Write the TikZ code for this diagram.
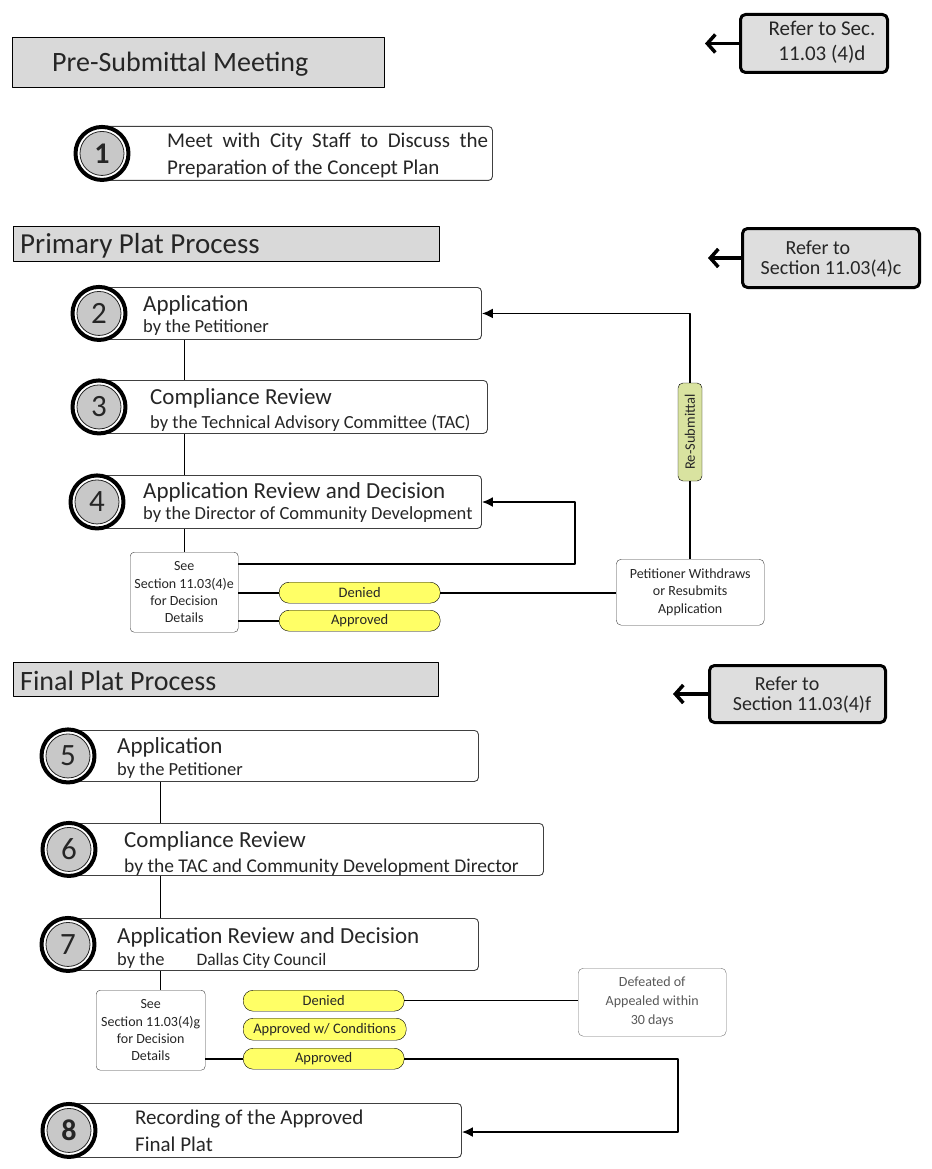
\documentclass[tikz,border=0pt]{standalone}
\usepackage{fontspec}
\setmainfont{Carlito}
\usetikzlibrary{arrows.meta, positioning}

\definecolor{hdrgray}{HTML}{D9D9D9}
\definecolor{refgray}{HTML}{DEDEDE}
\definecolor{numgray}{HTML}{C8C8C8}
\definecolor{pillyellow}{HTML}{FFFF66}
\definecolor{resubgreen}{HTML}{D9E3A0}
\definecolor{inkgray}{HTML}{262626}
\definecolor{framegray}{HTML}{404040}

\begin{document}
\begin{tikzpicture}
[x=1pt, y=-1pt, line join=round,
 header/.style={draw=black, fill=hdrgray, anchor=north west, inner sep=0},
 hdrtext/.style={font=\fontsize{28}{32}\selectfont, text=inkgray, anchor=base west, inner sep=0},
 stepbox/.style={draw=framegray, fill=white, rounded corners=4pt, anchor=north west, line width=0.9pt},
 ring/.style={circle, draw=black, fill=white, line width=4pt, minimum size=53pt, inner sep=0},
 num/.style={circle, draw=black!85, fill=numgray, line width=0.8pt, minimum size=44pt, inner sep=0,
             font=\fontsize{31}{31}\selectfont, text=inkgray},
 title/.style={font=\fontsize{23}{27}\selectfont, text=inkgray, anchor=base west, inner sep=0},
 sub/.style={font=\fontsize{18.5}{22}\selectfont, text=inkgray, anchor=base west, inner sep=0},
 note/.style={draw=framegray, fill=white, rounded corners=4pt, align=center, anchor=north west,
              font=\fontsize{14}{17.2}\selectfont, text=inkgray, inner sep=0},
 pill/.style={draw=black, fill=pillyellow, rounded corners=10pt, minimum width=161pt, minimum height=21pt,
              inner sep=0, anchor=north west, font=\fontsize{14.5}{15}\selectfont, text=inkgray},
 refer/.style={draw=black, fill=refgray, line width=3pt, rounded corners=5pt, anchor=north west},
 refertext/.style={font=\fontsize{20}{20}\selectfont, text=inkgray, inner sep=0, align=left},
 back/.style={draw=black, line width=3.5pt, -{Straight Barb[length=8pt, width=18pt]}},
 link/.style={draw=black, line width=1.8pt},
 feed/.style={link, -{Latex[length=11pt, width=10pt]}},
 thinlink/.style={draw=black, line width=0.9pt}]

\useasboundingbox (0,0) rectangle (931,1169);

% Pre-submittal
\node[header, minimum width=372pt, minimum height=50pt] (hpre) at (12,37) {};
\node[hdrtext] (hpretext) at (52,72) {Pre-Submittal Meeting};
\node[refer, minimum width=147pt, minimum height=58pt] (ref1) at (739,13) {};
\node[refertext, align=center, font=\fontsize{21}{25}\selectfont] (ref1text) at (822,42) {Refer to Sec.\\11.03 (4)d};
\coordinate[left=34pt of ref1.west] (ref1tip);
\draw[back] (ref1.west) -- (ref1tip);

\node[stepbox, minimum width=390pt, minimum height=54pt] (b1) at (102,126) {};
\node[ring] (r1) at (b1.west) {};
\node[num, font=\bfseries\fontsize{30}{30}\selectfont] (n1) at (r1) {1};
\node[anchor=north west, inner sep=0, text width=321pt, align=justify, text=inkgray,
      font=\fontsize{21}{27}\selectfont] (t1) at (167,133)
  {\hyphenpenalty=10000 Meet with City Staff to Discuss the Preparation of the Concept Plan};

% Primary plat
\node[header, minimum width=426pt, minimum height=35pt] (hpri) at (13,226) {};
\node[hdrtext, font=\fontsize{29}{32}\selectfont] (hpritext) at (20,253) {Primary Plat Process};
\node[refer, minimum width=177pt, minimum height=59pt] (ref2) at (741,227) {};
\node[refertext] (ref2text) at (831,259) {\hspace{25pt}Refer to\\Section 11.03(4)c};
\coordinate[left=33pt of ref2.west] (ref2tip);
\draw[back] (ref2.west) -- (ref2tip);

\node[stepbox, minimum width=382pt, minimum height=52pt] (b2) at (99,287) {};
\node[stepbox, minimum width=388pt, minimum height=53pt] (b3) at (99,380) {};
\node[stepbox, minimum width=384pt, minimum height=53pt] (b4) at (97,475) {};
\node[ring] (r2) at (b2.west) {};
\node[num] (n2) at (r2) {2};
\node[ring] (r3) at (b3.west) {};
\node[num] (n3) at (r3) {3};
\node[ring] (r4) at (b4.west) {};
\node[num] (n4) at (r4) {4};
\node[title] at (143,311) {Application};
\node[sub] at (143,332) {by the Petitioner};
\node[title] at (150,404) {Compliance Review};
\node[sub] at (150,428) {by the Technical Advisory Committee (TAC)};
\node[title] at (143,498) {Application Review and Decision};
\node[sub] at (143,519) {by the Director of Community Development};

\node[note, minimum width=108pt, minimum height=80pt] (see4) at (130,552)
  {See\\Section 11.03(4)e\\for Decision\\Details};
\node[pill] (deny4) at (279,582) {Denied};
\node[pill] (appr4) at (279,610) {Approved};
\node[note, rounded corners=5pt, minimum width=148pt, minimum height=66pt] (withdraw) at (616,559)
  {Petitioner Withdraws\\or Resubmits\\Application};
\node[draw=black, fill=resubgreen, rounded corners=5pt, minimum width=98pt, minimum height=24pt,
      inner sep=0, rotate=90, font=\fontsize{14.5}{15}\selectfont, text=inkgray] (resub) at (690,432) {Re-Submittal};

\draw[thinlink] (b2.south -| see4.north) -- (b3.north -| see4.north);
\draw[thinlink] (b3.south -| see4.north) -- (b4.north -| see4.north);
\draw[thinlink] (b4.south -| see4.north) -- (see4.north);
\draw[feed] (see4.east |- 0,564) -| (575,502) -- (b4.east |- 0,502);
\draw[link] (see4.east |- deny4) -- (deny4.west);
\draw[link] (deny4.east) -- (withdraw.west |- deny4);
\draw[link] (see4.east |- appr4) -- (appr4.west);
\draw[link] (withdraw.north -| resub) -- (resub.west);
\draw[feed] (resub.east) -- (resub.east |- b2.east) -- (b2.east);

% Final plat
\node[header, minimum width=425pt, minimum height=34pt] (hfin) at (13,662) {};
\node[hdrtext] (hfintext) at (20,690) {Final Plat Process};
\node[refer, minimum width=176pt, minimum height=57pt] (ref3) at (708,664) {};
\node[refertext] (ref3text) at (802,695) {\hspace{22pt}Refer to\\Section 11.03(4)f};
\coordinate[left=35pt of ref3.west] (ref3tip);
\draw[back] (ref3.west) -- (ref3tip);

\node[stepbox, minimum width=410pt, minimum height=51pt] (b5) at (68,730) {};
\node[stepbox, minimum width=474pt, minimum height=52pt] (b6) at (69,823) {};
\node[stepbox, minimum width=410pt, minimum height=52pt] (b7) at (68,918) {};
\node[stepbox, minimum width=392pt, minimum height=54pt] (b8) at (69,1103) {};
\node[ring] (r5) at (b5.west) {};
\node[num] (n5) at (r5) {5};
\node[ring] (r6) at (b6.west) {};
\node[num] (n6) at (r6) {6};
\node[ring] (r7) at (b7.west) {};
\node[num] (n7) at (r7) {7};
\node[ring] (r8) at (b8.west) {};
\node[num, font=\bfseries\fontsize{30}{30}\selectfont] (n8) at (r8) {8};
\node[title] at (117,753) {Application};
\node[sub] at (117,775) {by the Petitioner};
\node[title] at (124,847) {Compliance Review};
\node[sub, font=\fontsize{19.5}{22}\selectfont] at (124,872) {by the TAC and Community Development Director};
\node[title] at (117,943) {Application Review and Decision};
\node[sub] at (117,965) {by the\hspace{32pt}{\fontsize{17.5}{20}\selectfont Dallas City Council}};
\node[title, font=\fontsize{21}{27}\selectfont] at (135,1124) {Recording of the Approved};
\node[title, font=\fontsize{21}{27}\selectfont] at (135,1151) {Final Plat};

\node[note, minimum width=109pt, minimum height=80pt] (see7) at (96,990)
  {See\\Section 11.03(4)g\\for Decision\\Details};
\coordinate (spine7) at (160,990);
\node[pill] (deny7) at (243,990) {Denied};
\node[pill, minimum width=163pt, minimum height=22pt] (cond7) at (243,1018) {Approved w/ Conditions};
\node[pill] (appr7) at (243,1048) {Approved};
\node[note, draw=black!55, rounded corners=5pt, minimum width=148pt, minimum height=68pt,
      text=black!65, font=\fontsize{14}{19}\selectfont] (defeat) at (578,968)
  {Defeated of\\Appealed within\\30 days};

\draw[thinlink] (b5.south -| spine7) -- (b6.north -| spine7);
\draw[thinlink] (b6.south -| spine7) -- (b7.north -| spine7);
\draw[thinlink] (b7.south -| spine7) -- (spine7);
\draw[thinlink, line width=1.2pt] (deny7.east) -- (defeat.west |- deny7);
\draw[link] (see7.east |- appr7) -- (appr7.west);
\draw[feed] (appr7.east) -| (678,1132) -- (b8.east |- 0,1132);

\end{tikzpicture}
\end{document}
